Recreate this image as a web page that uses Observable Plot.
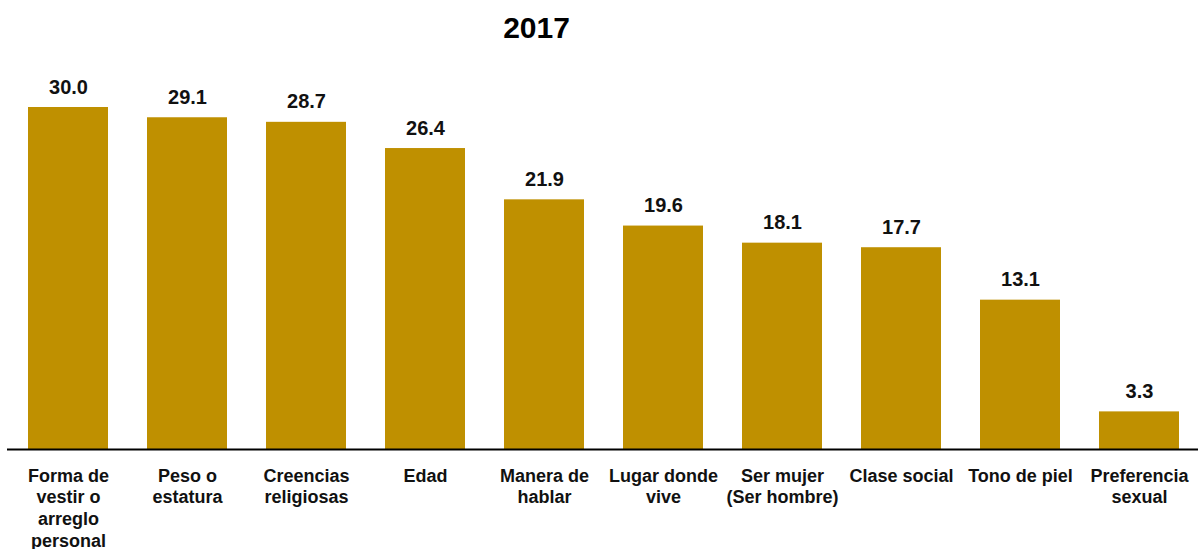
<!DOCTYPE html>
<html>
<head>
<meta charset="utf-8">
<script src="https://cdn.jsdelivr.net/npm/d3@7"></script>
<script src="https://cdn.jsdelivr.net/npm/@observablehq/plot@0.6"></script>
<style>
  html, body { margin: 0; padding: 0; background: #fff; }
  body { width: 1198px; height: 549px; overflow: hidden; font-family: "Liberation Sans", Arial, sans-serif; }
  #title { height: 55px; line-height: 55px; font-size: 30px; font-weight: bold; text-align: center; padding-right: 125px; color: #000; }
  #chart svg { display: block; }
</style>
</head>
<body>
<div id="title">2017</div>
<div id="chart"></div>
<script>
const categories = [
  "Forma de vestir o arreglo personal",
  "Peso o estatura",
  "Creencias religiosas",
  "Edad",
  "Manera de hablar",
  "Lugar donde vive",
  "Ser mujer (Ser hombre)",
  "Clase social",
  "Tono de piel",
  "Preferencia sexual"
];
const tickLabels = [
  "Forma de\nvestir o\narreglo\npersonal",
  "Peso o\nestatura",
  "Creencias\nreligiosas",
  "Edad",
  "Manera de\nhablar",
  "Lugar donde\nvive",
  "Ser mujer\n(Ser hombre)",
  "Clase social",
  "Tono de piel",
  "Preferencia\nsexual"
];
const values = [30.0, 29.1, 28.7, 26.4, 21.9, 19.6, 18.1, 17.7, 13.1, 3.3];

const data = categories.map((c, i) => ({category: c, value: values[i]}));
const labelOf = new Map(categories.map((c, i) => [c, tickLabels[i]]));

const chart = Plot.plot({
  width: 1198,
  height: 494,
  marginLeft: 7,
  marginRight: 0,
  marginTop: 52,
  marginBottom: 100,
  style: {fontFamily: '"Liberation Sans", Arial, sans-serif', background: "#fff"},
  x: {domain: categories, range: [7.7, 1200.3], paddingInner: 0.325, paddingOuter: 0.1625, align: 0.5},
  y: {domain: [0, 30], nice: false, axis: null},
  marks: [
    Plot.barY(data, {x: "category", y: "value", fill: "#BF9000"}),
    Plot.ruleY([0], {stroke: "#000", strokeWidth: 2}),
    Plot.text(data, {x: "category", y: "value", text: d => d.value.toFixed(1), lineAnchor: "bottom", dy: -14, fontSize: 20, fontWeight: "bold", fill: "#111"}),
    Plot.axisX({tickSize: 0, tickPadding: 17, fontSize: 18, fontWeight: "bold", lineHeight: 1.2, lineAnchor: "top", fill: "#111", tickFormat: d => labelOf.get(d), label: null})
  ]
});
document.getElementById("chart").appendChild(chart);
</script>
</body>
</html>
